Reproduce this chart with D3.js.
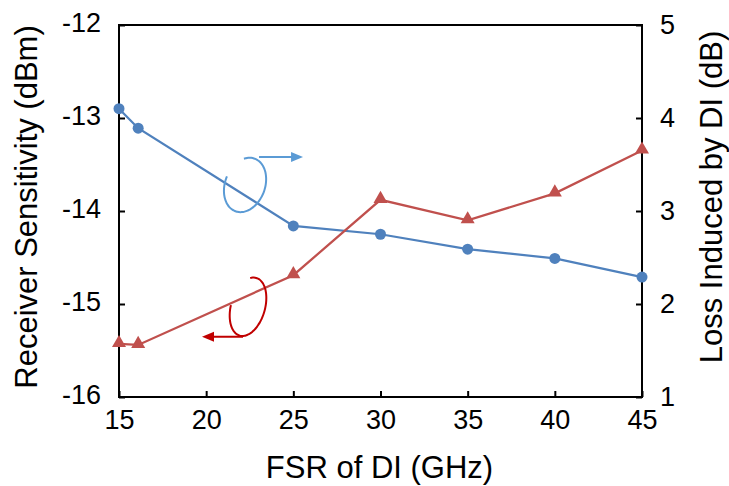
<!DOCTYPE html>
<html>
<head>
<meta charset="utf-8">
<script src="https://cdnjs.cloudflare.com/ajax/libs/d3/7.8.5/d3.min.js"></script>
<style>
  html, body { margin: 0; padding: 0; background: #fff; }
  svg { display: block; }
  text { font-family: Arial, "Liberation Sans", sans-serif; fill: #000; }
</style>
</head>
<body>
<svg id="chart" width="729" height="486"></svg>
<script>
// FSR of the delay interferometer (GHz)
const fsr = [15, 16.1, 25, 30, 35, 40, 45];
// Receiver sensitivity (dBm), left axis
const sensitivity = [-15.43, -15.44, -14.69, -13.88, -14.10, -13.81, -13.35];
// Loss induced by DI (dB), right axis
const loss = [4.10, 3.89, 2.84, 2.75, 2.59, 2.49, 2.29];

const xTicks = [15, 20, 25, 30, 35, 40, 45];
const leftTicks = [-12, -13, -14, -15, -16];
const rightTicks = [1, 2, 3, 4, 5];

const svg = d3.select("#chart");
const m = { left: 119, right: 642, top: 25, bottom: 397 };

const x = d3.scaleLinear().domain([15, 45]).range([m.left, m.right]);
const yL = d3.scaleLinear().domain([-16, -12]).range([m.bottom, m.top]);
const yR = d3.scaleLinear().domain([1, 5]).range([m.bottom, m.top]);

const blue = "#4F81BD", red = "#C0504D";
const fmt = d => String(d);   // plain hyphen-minus, no decimals

// axes with inward ticks
function styleAxis(g) {
  g.select(".domain").remove();
  g.selectAll(".tick line").attr("stroke", "#000").attr("stroke-width", 2);
  g.selectAll(".tick text").style("font-size", "27px")
    .style("font-family", "Arial, 'Liberation Sans', sans-serif");
}

svg.append("g").attr("transform", `translate(0,${m.bottom})`)
  .call(d3.axisBottom(x).tickValues(xTicks).tickFormat(fmt)
    .tickSizeInner(-6).tickSizeOuter(0).tickPadding(13))
  .call(styleAxis);

svg.append("g").attr("transform", `translate(${m.left},0)`)
  .call(d3.axisLeft(yL).tickValues(leftTicks).tickFormat(fmt)
    .tickSizeInner(-6).tickSizeOuter(0).tickPadding(18))
  .call(styleAxis)
  .selectAll(".tick text").attr("dy", "0.25em");

svg.append("g").attr("transform", `translate(${m.right},0)`)
  .call(d3.axisRight(yR).tickValues(rightTicks).tickFormat(fmt)
    .tickSizeInner(-6).tickSizeOuter(0).tickPadding(18))
  .call(styleAxis)
  .selectAll(".tick text").attr("dy", "0.3em");

// frame
svg.append("rect")
  .attr("x", m.left).attr("y", m.top)
  .attr("width", m.right - m.left).attr("height", m.bottom - m.top)
  .attr("fill", "none").attr("stroke", "#000").attr("stroke-width", 2);

// series lines
const lossLine = d3.line().x((d, i) => x(fsr[i])).y(d => yR(d));
const sensLine = d3.line().x((d, i) => x(fsr[i])).y(d => yL(d));

svg.append("path").datum(loss).attr("d", lossLine)
  .attr("fill", "none").attr("stroke", blue).attr("stroke-width", 2.25);
svg.append("path").datum(sensitivity).attr("d", sensLine)
  .attr("fill", "none").attr("stroke", red).attr("stroke-width", 2.25);

svg.selectAll("circle.loss").data(loss).join("circle")
  .attr("class", "loss")
  .attr("cx", (d, i) => x(fsr[i])).attr("cy", d => yR(d))
  .attr("r", 5.5).attr("fill", blue);

const tri = d3.symbol().type(d3.symbolTriangle).size(85);
svg.selectAll("path.sens").data(sensitivity).join("path")
  .attr("class", "sens")
  .attr("d", tri)
  .attr("transform", (d, i) => `translate(${x(fsr[i])},${yL(d) - 1})`)
  .attr("fill", red);

// curved arrows telling which axis each curve belongs to
function openEllipse(cx, cy, a, b, rotDeg, t0, t1) {
  const phi = rotDeg * Math.PI / 180;
  const pts = d3.range(t0, t1 + 0.5, 4).map(deg => {
    const t = deg * Math.PI / 180;
    const ex = a * Math.cos(t), ey = b * Math.sin(t);
    return [cx + ex * Math.cos(phi) - ey * Math.sin(phi),
            cy + ex * Math.sin(phi) + ey * Math.cos(phi)];
  });
  return d3.line().curve(d3.curveCatmullRom)(pts);
}
function arrow(color, x0, y0, x1, y1) {
  const dir = Math.sign(x1 - x0);
  svg.append("line").attr("x1", x0).attr("y1", y0).attr("x2", x1 - dir * 9).attr("y2", y1)
    .attr("stroke", color).attr("stroke-width", 2);
  svg.append("path")
    .attr("d", `M${x1},${y1} L${x1 - dir * 12},${y1 - 5} L${x1 - dir * 12},${y1 + 5} Z`)
    .attr("fill", color);
}

// loss curve -> right axis
const annBlue = "#5B9BD5";
const bcx = x(22.23), bcy = yR(3.28);
svg.append("path").attr("d", openEllipse(bcx, bcy, 20, 28, 20, 240, 545))
  .attr("fill", "none").attr("stroke", annBlue).attr("stroke-width", 2);
arrow(annBlue, bcx + 14, bcy - 28, bcx + 58, bcy - 28);

// sensitivity curve -> left axis
const annRed = "#C00000";
const rcx = x(22.4), rcy = yL(-15.03);
svg.append("path").attr("d", openEllipse(rcx, rcy, 17, 30, 16, 250, 535))
  .attr("fill", "none").attr("stroke", annRed).attr("stroke-width", 2);
arrow(annRed, rcx - 5, rcy + 30, rcx - 46, rcy + 30);

// axis titles
svg.append("text")
  .attr("transform", `translate(37,${(m.top + m.bottom) / 2 - 4}) rotate(-90)`)
  .attr("text-anchor", "middle").style("font-size", "31px")
  .text("Receiver Sensitivity (dBm)");

svg.append("text")
  .attr("transform", `translate(722,${(m.top + m.bottom) / 2 - 14}) rotate(-90)`)
  .attr("text-anchor", "middle").style("font-size", "31px")
  .text("Loss Induced by DI (dB)");

svg.append("text")
  .attr("x", (m.left + m.right) / 2 - 1).attr("y", 478)
  .attr("text-anchor", "middle").style("font-size", "31px")
  .text("FSR of DI (GHz)");
</script>
</body>
</html>
